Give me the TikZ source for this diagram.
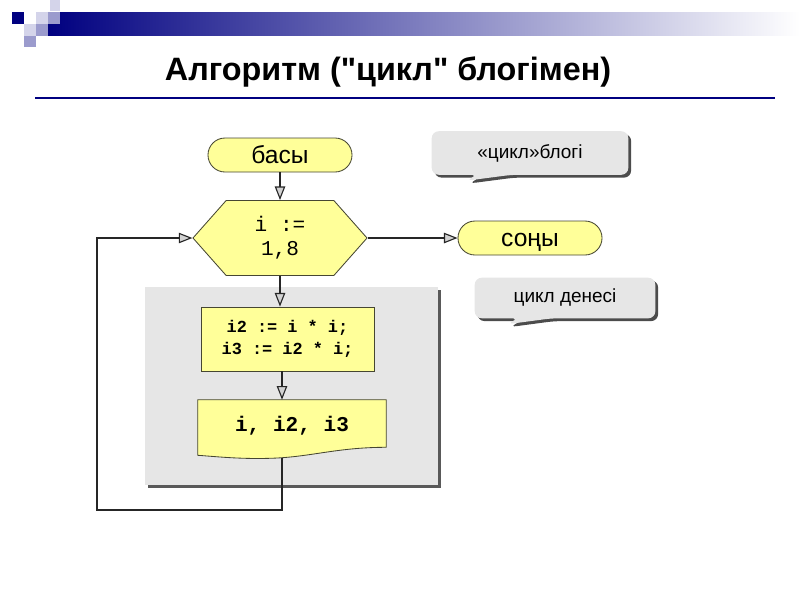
\documentclass[tikz,border=0pt]{standalone}
\usepackage{fontspec}
\setmainfont{Liberation Sans}
\newfontfamily\titlefont{Liberation Sans}
\newfontfamily\codefont{Liberation Mono}
\usetikzlibrary{positioning,shapes.misc,shapes.symbols,arrows.meta,calc,shadows}
\definecolor{fcyellow}{RGB}{255,255,153}
\definecolor{fcedge}{RGB}{70,70,50}
\definecolor{fcgray}{RGB}{230,230,230}
\definecolor{fcnavy}{RGB}{0,0,128}
\definecolor{fclight}{RGB}{212,212,234}
\definecolor{fcmid}{RGB}{155,155,205}
\pgfdeclarelayer{back}
\pgfdeclarelayer{fill}
\pgfsetlayers{back,fill,main}

\begin{document}
\begin{tikzpicture}[x=0.025cm,y=-0.025cm,
  term/.style={rounded rectangle, draw=fcedge, fill=fcyellow, line width=0.6pt,
    minimum width=3.6cm, minimum height=0.85cm, inner sep=0pt,
    text height=12pt, text depth=0.6pt, font=\fontsize{17.5}{19}\selectfont},
  loopbox/.style={signal, signal to=east and west, signal pointer angle=97,
    draw=fcedge, fill=fcyellow, line width=0.6pt, minimum width=4.35cm,
    minimum height=1.875cm, inner sep=0pt, align=center,
    font=\codefont\fontsize{15}{16.2}\selectfont},
  procbox/.style={rectangle, draw=fcedge, fill=fcyellow, line width=0.6pt,
    minimum width=4.325cm, minimum height=1.6cm, inner sep=0pt, align=center,
    font=\codefont\bfseries\fontsize{12}{15.6}\selectfont},
  docbox/.style={rectangle, minimum width=4.7cm, minimum height=1.2cm, inner sep=0pt,
    font=\codefont\bfseries\fontsize{15}{18}\selectfont},
  docfill/.style={draw=fcedge, fill=fcyellow, line width=0.6pt},
  bodyarea/.style={fill=fcgray, minimum width=7.325cm, minimum height=4.95cm, inner sep=0pt,
    drop shadow={shadow xshift=0.07cm, shadow yshift=-0.07cm, opacity=1, fill=black!65}},
  note/.style={rectangle, inner sep=0pt, font=\fontsize{13.5}{16}\selectfont},
  notefill/.style={fill=fcgray, rounded corners=5pt,
    drop shadow={shadow xshift=0.07cm, shadow yshift=-0.07cm, opacity=1, fill=black!70}},
  flow/.style={draw=black!85, line width=1.3pt,
    -{Triangle[open, length=3.4mm, width=2.6mm, fill=gray!35, line width=0.8pt]}}
]
\useasboundingbox (0,0) rectangle (800,600);

% Header bar and squares
\shade[left color=fcnavy, right color=white] (48,12) rectangle (800,35);
\fill[fcnavy] (12,12) rectangle (24,24);
\fill[fclight] (50,0) rectangle (60,11);
\fill[fclight] (36,12) rectangle (48,24);
\fill[fcmid] (48,12) rectangle (60,24);
\fill[fclight] (24,24) rectangle (36,36);
\fill[fcmid] (36,24) rectangle (48,36);
\fill[fcmid] (24,36) rectangle (36,47);

% Title
\node[font=\titlefont\bfseries\fontsize{23}{25}\selectfont] (title) at (388,72) {Алгоритм ("цикл" блогімен)};
\draw[fcnavy, line width=1.8pt] (35,98) -- (775,98);

% Loop body area
\begin{pgfonlayer}{back}
\node[bodyarea] (bodyzone) at (291.5,386) {};
\end{pgfonlayer}

% Flowchart
\node[term] (start) at (280,155) {басы};
\node[loopbox] (loop) at (280,238) {i :=\\[1pt]1,8};
\node[term] (stop) at (530,238) {соңы};
\node[procbox] (body) at (287.5,339) {i2 := i * i;\\i3 := i2 * i;};
\node[docbox] (show) at (292,426) {i, i2, i3};
\begin{pgfonlayer}{fill}
\path[docfill] ($(show.north west)+(0,-2)$) -- ($(show.north east)+(0,-2)$) -- ($(show.south east)+(0,-3)$)
  .. controls +(-50,0) and +(40,-1) .. ($(show.south)+(-22,8)$)
  .. controls +(-30,1) and +(15,1) .. ($(show.south west)+(0,5)$) -- cycle;
\end{pgfonlayer}
\coordinate (showfoot) at ($(show.south)+(-10,7.5)$);
\coordinate (back) at (97,510);

% Connectors
\draw[flow] (start.south) -- (loop.north);
\draw[flow] (loop.east) -- (stop.west);
\draw[flow] (loop.south) -- (loop.south |- body.north);
\draw[flow] (body.south -| showfoot) -- ($(show.north -| showfoot)+(0,-2)$);
\draw[flow] (showfoot) |- (back) |- (loop.west);

% Notes
\node[note, minimum width=4.9cm, minimum height=1.075cm] (blocknote) at (530,153) {«цикл»блогі};
\node[note, minimum width=4.5cm, minimum height=1cm] (bodynote) at (565,298) {цикл денесі};
\begin{pgfonlayer}{fill}
\path[notefill] (blocknote.north west) -- (blocknote.north east) -- (blocknote.south east)
  -- ($(blocknote.south west)+(80,0)$) -- ($(blocknote.south west)+(34,6)$)
  -- ($(blocknote.south west)+(46,0)$) -- (blocknote.south west) -- cycle;
\path[notefill] (bodynote.north west) -- (bodynote.north east) -- (bodynote.south east)
  -- ($(bodynote.south west)+(77,0)$) -- ($(bodynote.south west)+(32,6)$)
  -- ($(bodynote.south west)+(44,0)$) -- (bodynote.south west) -- cycle;
\end{pgfonlayer}
\end{tikzpicture}
\end{document}
